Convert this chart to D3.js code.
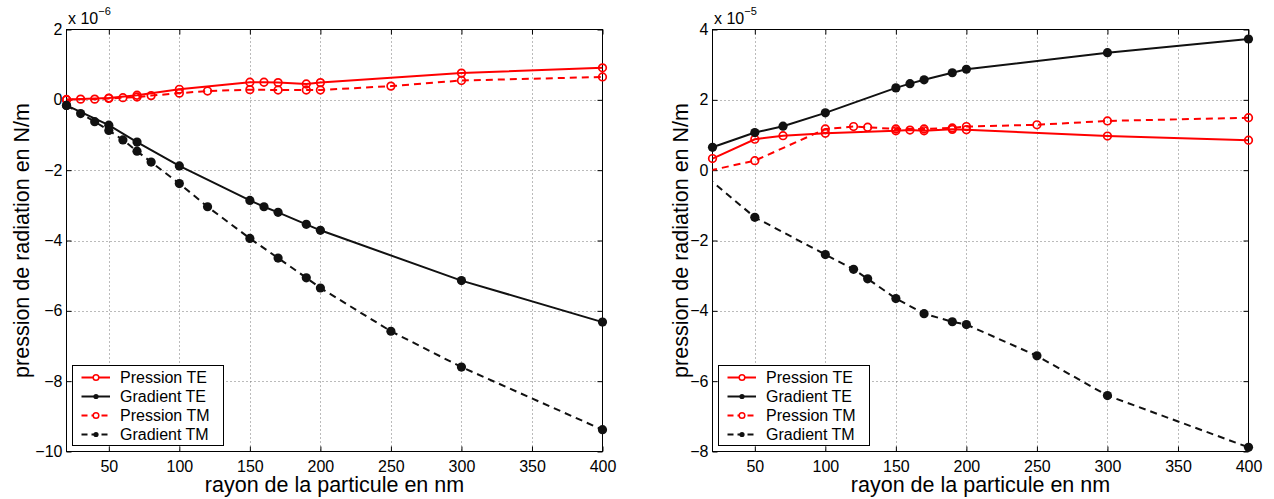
<!DOCTYPE html>
<html>
<head>
<meta charset="utf-8">
<script src="https://cdn.jsdelivr.net/npm/d3@7"></script>
<style>
  html, body { margin: 0; padding: 0; background: #fff; }
  svg { display: block; font-family: "Liberation Sans", Arial, Helvetica, sans-serif; }
</style>
</head>
<body>
<svg id="chart" width="1274" height="499"></svg>
<script>
// ---------- data ----------
const xTicks = [50, 100, 150, 200, 250, 300, 350, 400];
const yTicksLeft = [-10, -8, -6, -4, -2, 0, 2];
const yTicksRight = [-8, -6, -4, -2, 0, 2, 4];
const seriesNames = ["Pression TE", "Gradient TE", "Pression TM", "Gradient TM"];

// left panel (x 10^-6 N/m)
const leftTEx = [20, 50, 70, 100, 150, 160, 170, 190, 200, 300, 400];
const leftPressionTE = [0.01, 0.05, 0.13, 0.30, 0.50, 0.50, 0.49, 0.45, 0.49, 0.76, 0.91];
const leftGradientTE = [-0.16, -0.72, -1.20, -1.88, -2.86, -3.04, -3.20, -3.54, -3.71, -5.14, -6.32];
const leftTMx = [20, 30, 40, 50, 60, 70, 80, 100, 120, 150, 170, 190, 200, 250, 300, 400];
const leftPressionTM = [0.00, 0.02, 0.02, 0.04, 0.06, 0.08, 0.12, 0.19, 0.25, 0.29, 0.28, 0.28, 0.28, 0.39, 0.55, 0.65];
const leftGradientTM = [-0.16, -0.39, -0.62, -0.87, -1.14, -1.46, -1.77, -2.38, -3.04, -3.94, -4.50, -5.06, -5.35, -6.58, -7.60, -9.38];

// right panel (x 10^-5 N/m)
const rightTEx = [20, 50, 70, 100, 150, 160, 170, 190, 200, 300, 400];
const rightPressionTE = [0.33, 0.88, 0.98, 1.05, 1.12, 1.14, 1.12, 1.16, 1.15, 0.97, 0.85];
const rightGradientTE = [0.65, 1.07, 1.25, 1.63, 2.34, 2.46, 2.57, 2.77, 2.87, 3.34, 3.73];
const rightTMx = [10, 50, 100, 120, 130, 150, 170, 190, 200, 250, 300, 400];
const rightPressionTM = [-0.08, 0.27, 1.17, 1.24, 1.22, 1.17, 1.17, 1.20, 1.24, 1.29, 1.40, 1.49];
const rightGradientTM = [0.00, -1.34, -2.40, -2.82, -3.09, -3.65, -4.08, -4.31, -4.39, -5.28, -6.41, -7.88];

const xDomain = [20, 400];
const leftYDomain = [-10, 2];
const rightYDomain = [-8, 4];

// ---------- drawing ----------
const svg = d3.select("#chart");
const zip = (xs, ys) => xs.map((x, i) => ({x: x, y: ys[i]}));

const styles = [
  {color: "#ff0000", dash: null, marker: "open"},
  {color: "#111111", dash: null, marker: "dot"},
  {color: "#ff0000", dash: "7,5", marker: "open"},
  {color: "#111111", dash: "7,5", marker: "dot"}
];

function panel(cfg) {
  const {x0, x1, y0, y1, yDomain, yTicks, series, expo, titleX, id} = cfg;
  const x = d3.scaleLinear().domain(xDomain).range([x0, x1]);
  const y = d3.scaleLinear().domain(yDomain).range([y1, y0]);
  const g = svg.append("g");

  // clip
  svg.append("defs").append("clipPath").attr("id", "clip" + id)
    .append("rect").attr("x", x0).attr("y", y0).attr("width", x1 - x0).attr("height", y1 - y0);

  // background
  g.append("rect").attr("x", x0).attr("y", y0).attr("width", x1 - x0).attr("height", y1 - y0)
    .attr("fill", "#fff");

  // grid
  const grid = g.append("g").attr("stroke", "#777").attr("stroke-width", 1).attr("stroke-dasharray", "1,3");
  xTicks.filter(t => t > xDomain[0] && t < xDomain[1]).forEach(t => {
    grid.append("line").attr("x1", Math.round(x(t)) + 0.5).attr("x2", Math.round(x(t)) + 0.5)
      .attr("y1", y0).attr("y2", y1);
  });
  yTicks.filter(t => t > yDomain[0] && t < yDomain[1]).forEach(t => {
    grid.append("line").attr("y1", Math.round(y(t)) + 0.5).attr("y2", Math.round(y(t)) + 0.5)
      .attr("x1", x0).attr("x2", x1);
  });

  // axes
  const fmt = d3.format("d");
  const ax = g.append("g").attr("transform", `translate(0,${y1})`)
    .call(d3.axisBottom(x).tickValues(xTicks).tickFormat(fmt).tickSizeInner(-5).tickSizeOuter(0).tickPadding(9));
  const ay = g.append("g").attr("transform", `translate(${x0},0)`)
    .call(d3.axisLeft(y).tickValues(yTicks).tickFormat(fmt).tickSizeInner(-5).tickSizeOuter(0).tickPadding(4));
  const at = g.append("g").attr("transform", `translate(0,${y0})`)
    .call(d3.axisTop(x).tickValues(xTicks).tickFormat("").tickSizeInner(-5).tickSizeOuter(0));
  const ar = g.append("g").attr("transform", `translate(${x1},0)`)
    .call(d3.axisRight(y).tickValues(yTicks).tickFormat("").tickSizeInner(-5).tickSizeOuter(0));
  [ax, ay, at, ar].forEach(a => {
    a.select(".domain").remove();
    a.selectAll("line").attr("stroke", "#000");
    a.selectAll("text").attr("font-size", 16).attr("fill", "#000")
      .attr("font-family", "Liberation Sans, Arial, sans-serif");
  });

  // box
  g.append("rect").attr("x", x0).attr("y", y0).attr("width", x1 - x0).attr("height", y1 - y0)
    .attr("fill", "none").attr("stroke", "#000").attr("stroke-width", 1);

  // series
  const line = d3.line().x(d => x(d.x)).y(d => y(d.y));
  series.forEach((s, i) => {
    const st = styles[i];
    g.append("path").datum(s).attr("d", line)
      .attr("clip-path", `url(#clip${id})`)
      .attr("fill", "none").attr("stroke", st.color).attr("stroke-width", 2)
      .attr("stroke-dasharray", st.dash);
    const pts = s.filter(d => d.x >= xDomain[0] && d.x <= xDomain[1]);
    g.selectAll(null).data(pts).enter().append("circle")
      .attr("cx", d => x(d.x)).attr("cy", d => y(d.y))
      .attr("r", st.marker === "open" ? 3.8 : 4.6)
      .attr("fill", st.marker === "open" ? "none" : st.color)
      .attr("stroke", st.color).attr("stroke-width", st.marker === "open" ? 1.7 : 0);
  });

  // exponent label
  const ex = g.append("text").attr("x", x0 + 1.5).attr("y", 24).attr("font-size", 16).attr("fill", "#000");
  ex.append("tspan").text("x 10");
  ex.append("tspan").attr("dy", -9).attr("font-size", 11).text("\u2212" + expo);

  // axis titles
  g.append("text").attr("x", (x0 + x1) / 2).attr("y", 492).attr("text-anchor", "middle")
    .attr("font-size", 21.5).attr("fill", "#000").text("rayon de la particule en nm");
  g.append("text").attr("transform", `translate(${titleX},${(y0 + y1) / 2}) rotate(-90)`)
    .attr("text-anchor", "middle").attr("font-size", 21.5).attr("fill", "#000")
    .text("pression de radiation en N/m");

  // legend
  const lx = x0 + 6, ly = 365.5, lw = 151, lh = 80;
  const lg = g.append("g");
  lg.append("rect").attr("x", lx).attr("y", ly).attr("width", lw).attr("height", lh)
    .attr("fill", "#fff").attr("stroke", "#000").attr("stroke-width", 1);
  seriesNames.forEach((name, i) => {
    const st = styles[i];
    const ry = ly + 12 + i * 19;
    lg.append("line").attr("x1", lx + 9).attr("x2", lx + 37.5).attr("y1", ry).attr("y2", ry)
      .attr("stroke", st.color).attr("stroke-width", 2).attr("stroke-dasharray", st.dash ? "6,4" : null);
    lg.append("circle").attr("cx", lx + 23.5).attr("cy", ry)
      .attr("r", st.marker === "open" ? 2.8 : 2.6)
      .attr("fill", st.marker === "open" ? "#fff" : st.color)
      .attr("stroke", st.color).attr("stroke-width", st.marker === "open" ? 1.5 : 0);
    lg.append("text").attr("x", lx + 47.5).attr("y", ry + 5.8).attr("font-size", 16).attr("fill", "#000")
      .text(name);
  });
}

panel({
  id: "L", x0: 66.5, x1: 602.5, y0: 29.5, y1: 451.5,
  yDomain: leftYDomain, yTicks: yTicksLeft, expo: "6", titleX: 29,
  series: [zip(leftTEx, leftPressionTE), zip(leftTEx, leftGradientTE),
           zip(leftTMx, leftPressionTM), zip(leftTMx, leftGradientTM)]
});
panel({
  id: "R", x0: 712.5, x1: 1248.5, y0: 29.5, y1: 451.5,
  yDomain: rightYDomain, yTicks: yTicksRight, expo: "5", titleX: 688,
  series: [zip(rightTEx, rightPressionTE), zip(rightTEx, rightGradientTE),
           zip(rightTMx, rightPressionTM), zip(rightTMx, rightGradientTM)]
});
</script>
</body>
</html>
